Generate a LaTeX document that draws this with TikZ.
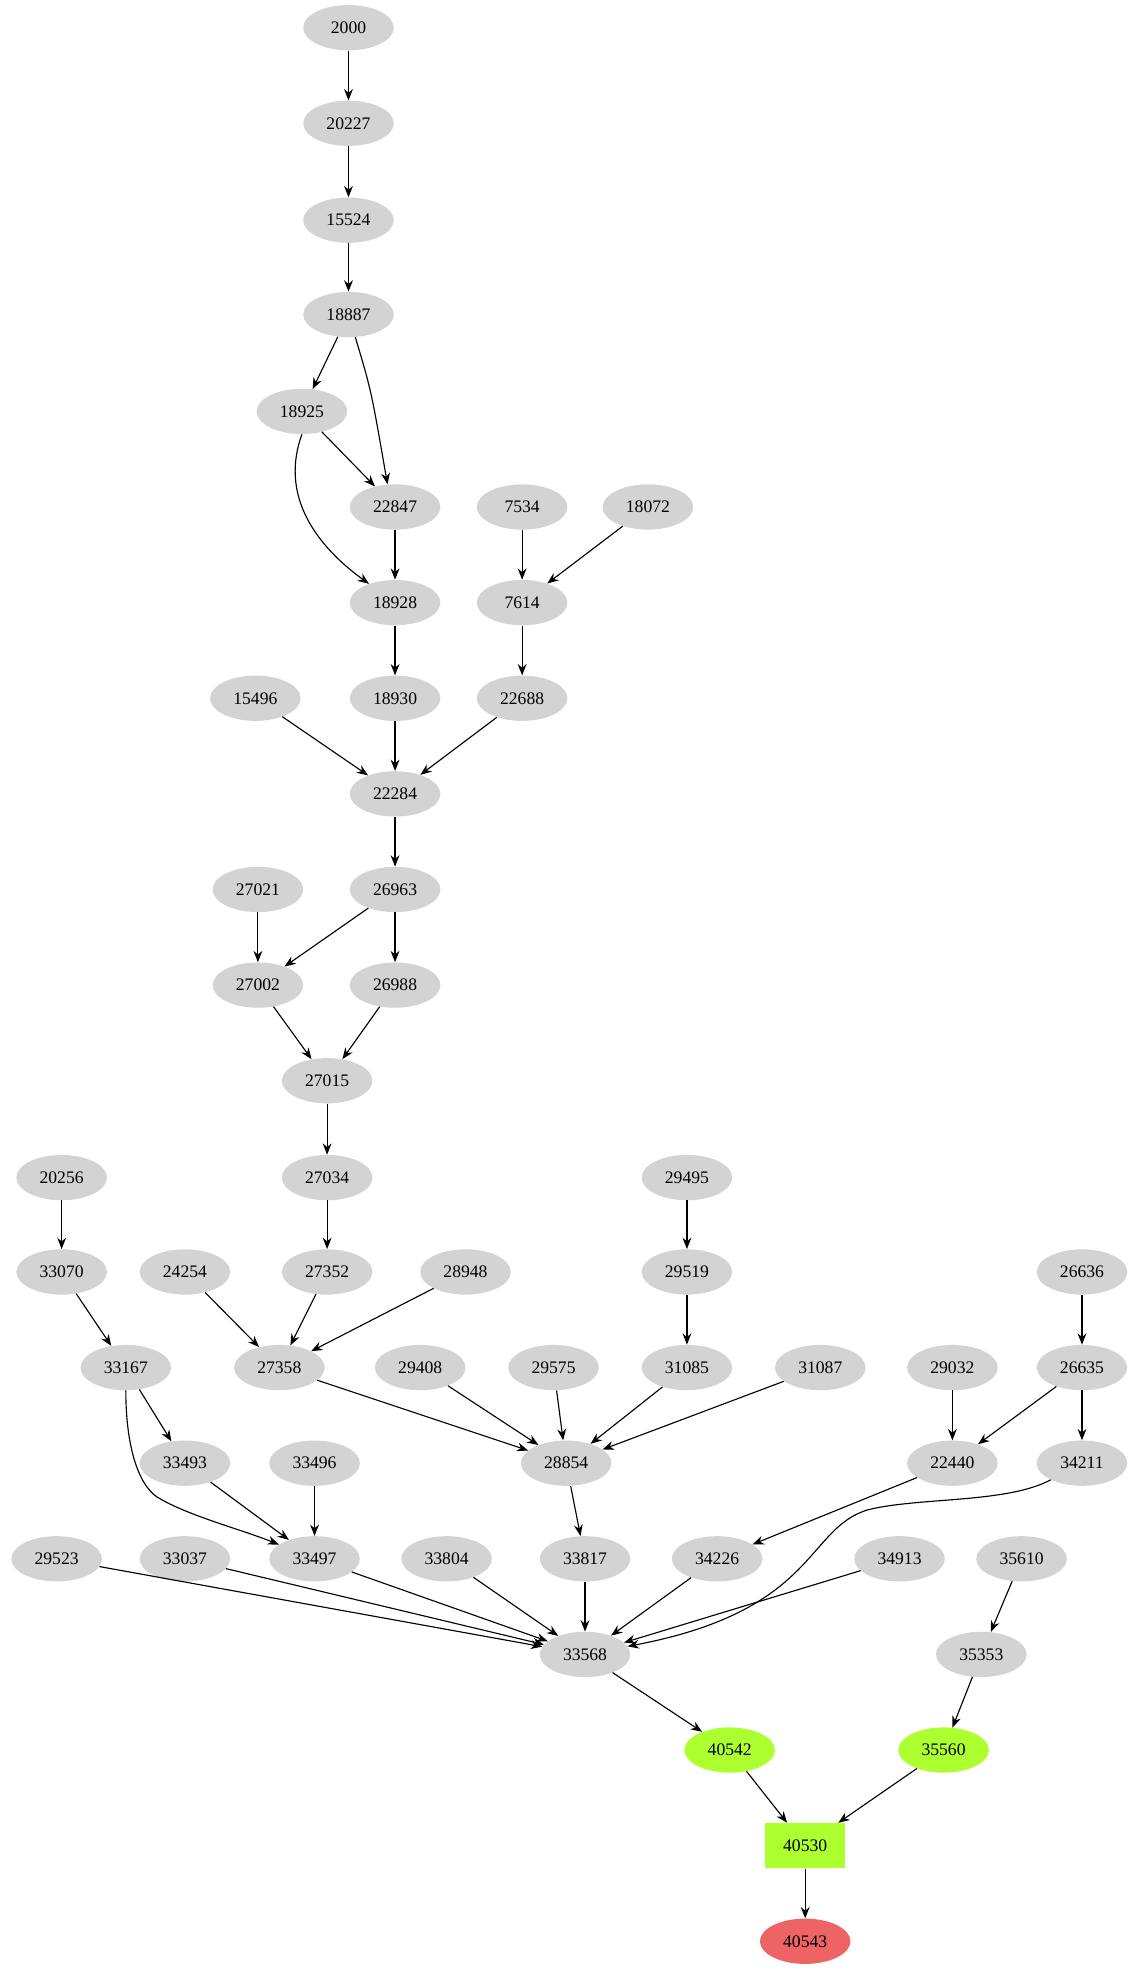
\documentclass[tikz,border=0pt]{standalone}
\usepackage{fontspec}
\setmainfont{Liberation Serif}
\usetikzlibrary{arrows.meta,shapes.geometric}
\definecolor{gn}{HTML}{D3D3D3}
\definecolor{gg}{HTML}{ADFF2F}
\definecolor{rr}{HTML}{EE6363}
\begin{document}
\begin{tikzpicture}[x=1pt,y=-1pt,
 nd/.style={ellipse,fill=gn,minimum width=72pt,minimum height=36pt,inner sep=0pt,font=\fontsize{14}{16}\selectfont},
 gnd/.style={nd,fill=gg},
 rnd/.style={nd,fill=rr},
 bx/.style={rectangle,fill=gg,minimum width=64pt,minimum height=36pt,font=\fontsize{14}{16}\selectfont},
 e/.style={-{Stealth[length=9pt,width=7pt]},line width=0.9pt}]
\useasboundingbox (0,0) rectangle (910,1573);
\foreach \n/\x/\y in {2000/277/22,20227/277/98,15524/277/175,18887/277/250,18925/240/327,22847/314/403,7534/415/403,18072/515/403,18928/314/479,7614/415/479,15496/203/555,18930/314/555,22688/415/555,22284/314/631,27021/205/707,26963/314/707,27002/205/783,26988/314/783,27015/260/859,20256/49/936,27034/260/936,29495/546/936,33070/49/1011,24254/147/1011,27352/260/1011,28948/370/1011,29519/546/1011,26636/860/1011,33167/100/1087,27358/222/1087,29408/334/1087,29575/440/1087,31085/546/1087,31087/652/1087,29032/757/1087,26635/860/1087,33493/147/1163,33496/250/1163,28854/450/1163,22440/757/1163,34211/860/1163,29523/45/1239,33037/147/1239,33497/250/1239,33804/355/1239,33817/465/1239,34226/570/1239,34913/715/1239,35610/812/1239,33568/465/1315,35353/780/1315}
  \node[nd] (n\n) at (\x,\y) {\n};
\node[gnd] (n40542) at (580,1391) {40542};
\node[gnd] (n35560) at (750,1391) {35560};
\node[bx] (n40530) at (640,1467) {40530};
\node[rnd] (n40543) at (640,1543) {40543};
\foreach \a/\b in {2000/20227,20227/15524,15524/18887,18887/18925,18925/22847,22847/18928,7534/7614,18072/7614,18928/18930,7614/22688,15496/22284,18930/22284,22688/22284,22284/26963,27021/27002,26963/27002,26963/26988,27002/27015,26988/27015,27015/27034,27034/27352,27352/27358,24254/27358,28948/27358,20256/33070,33070/33167,33167/33493,33493/33497,33496/33497,29495/29519,29519/31085,27358/28854,29408/28854,29575/28854,31085/28854,31087/28854,28854/33817,26636/26635,29032/22440,26635/22440,26635/34211,22440/34226,29523/33568,33037/33568,33497/33568,33804/33568,33817/33568,34226/33568,34913/33568,33568/40542,35610/35353,35353/35560,40542/40530,35560/40530,40530/40543}
  \draw[e] (n\a) -- (n\b);
\draw[e] (n18887) .. controls (295,310) .. (308,385);
\draw[e] (n18925.south) .. controls (220,400) and (260,440) .. (n18928);
\draw[e] (n33167.south) .. controls (100,1150) and (110,1180) .. (125,1190) .. controls (150,1205) and (190,1215) .. (n33497);
\draw[e] (n34211) .. controls (800,1195) and (730,1190) .. (690,1200) .. controls (640,1215) and (650,1280) .. (n33568);
\end{tikzpicture}
\end{document}
